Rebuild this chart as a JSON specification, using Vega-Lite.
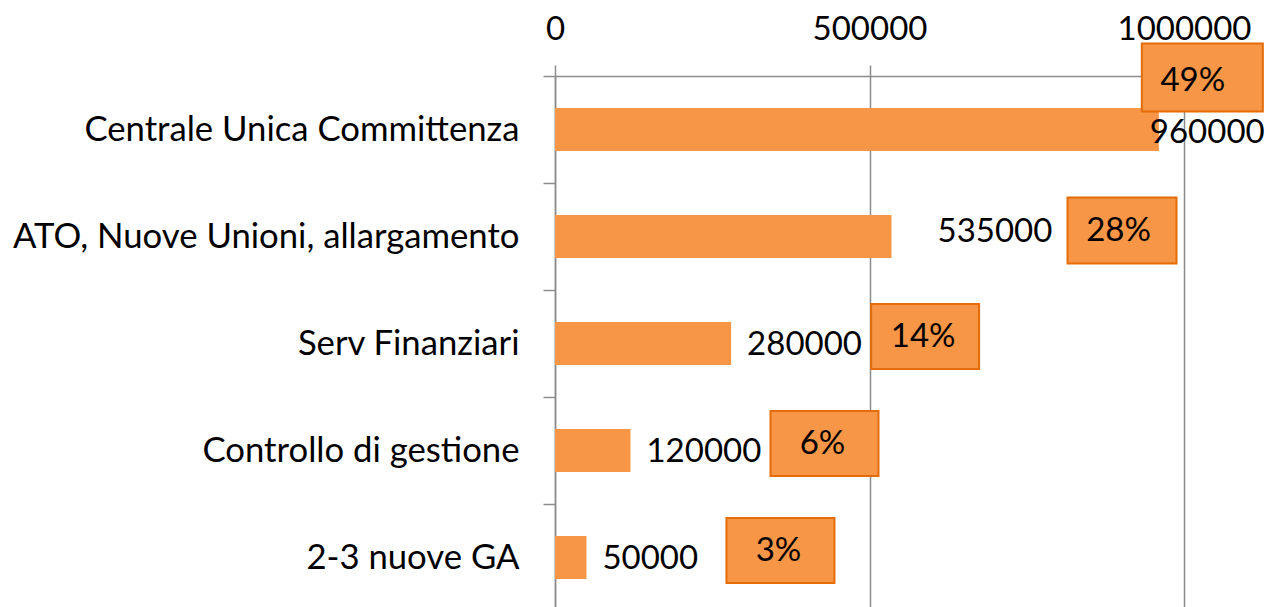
{
  "$schema": "https://vega.github.io/schema/vega-lite/v6.json",
  "autosize": {"type": "none"},
  "padding": {"left": 555, "top": 76, "right": 80, "bottom": 0},
  "width": 629,
  "height": 535,
  "background": "white",
  "config": {"view": {"stroke": null}, "font": "Lato", "text": {"font": "Lato"}},
  "data": {"values": [
    {"cat": "Centrale Unica Committenza", "value": 960000, "pct": 0.49},
    {"cat": "ATO, Nuove Unioni, allargamento", "value": 535000, "pct": 0.28},
    {"cat": "Serv Finanziari\u2002", "value": 280000, "pct": 0.14},
    {"cat": "Controllo di gestione\u2002", "value": 120000, "pct": 0.06},
    {"cat": "2-3 nuove GA", "value": 50000, "pct": 0.03}
  ]},
  "encoding": {
    "y": {"field": "cat", "type": "nominal", "sort": null,
      "scale": {"paddingInner": 0.6, "paddingOuter": 0.3},
      "axis": {"title": null, "orient": "left", "bandPosition": 0, "tickOffset": -32.1, "labelOffset": 33, "tickSize": 12, "tickColor": "#8c8c8c", "tickWidth": 1.5,
        "domainColor": "#8c8c8c", "domainWidth": 1.5, "labelFont": "Lato", "labelFontSize": 34.7, "labelColor": "black", "labelPadding": 24, "labelLimit": 0, "grid": false}},
    "x": {"field": "value", "type": "quantitative",
      "scale": {"domain": [0, 1000000], "nice": false},
      "axis": {"title": null, "orient": "top", "values": [0, 500000, 1000000], "format": "d", "grid": true, "gridColor": "#8c8c8c", "gridWidth": 1.5,
        "tickSize": 11, "tickColor": "#8c8c8c", "tickWidth": 1.5, "domainColor": "#8c8c8c", "domainWidth": 1.5,
        "labelFont": "Lato", "labelFontSize": 33, "labelColor": "black", "labelPadding": 19, "labelFlush": false}}
  },
  "layer": [
    {"mark": {"type": "bar", "color": "#F79646"}},
    {"transform": [{"filter": "datum.value < 500000"}],
     "mark": {"type": "text", "align": "left", "baseline": "middle", "dx": 16, "dy": 1, "fontSize": 33, "color": "black"},
     "encoding": {"text": {"field": "value", "type": "quantitative", "format": "d"}}},
    {"transform": [{"filter": "datum.value < 500000"}],
     "mark": {"type": "bar", "fill": "#F79646", "stroke": "#E46C0A", "strokeWidth": 2, "xOffset": 140, "x2Offset": 248, "height": 65, "yOffset": -7},
     "encoding": {"x2": {"field": "value"}}},
    {"transform": [{"filter": "datum.value < 500000"}],
     "mark": {"type": "text", "align": "center", "baseline": "middle", "dx": 192, "dy": -7, "fontSize": 33, "color": "black"},
     "encoding": {"text": {"field": "pct", "type": "quantitative", "format": ".0%"}}},
    {"transform": [{"filter": "datum.value >= 500000 && datum.value < 900000"}],
     "mark": {"type": "text", "align": "left", "baseline": "middle", "dx": 46, "dy": -5, "fontSize": 33, "color": "black"},
     "encoding": {"text": {"field": "value", "type": "quantitative", "format": "d"}}},
    {"transform": [{"filter": "datum.value >= 500000 && datum.value < 900000"}],
     "mark": {"type": "bar", "fill": "#F79646", "stroke": "#E46C0A", "strokeWidth": 2, "xOffset": 176, "x2Offset": 285, "height": 66, "yOffset": -6},
     "encoding": {"x2": {"field": "value"}}},
    {"transform": [{"filter": "datum.value >= 500000 && datum.value < 900000"}],
     "mark": {"type": "text", "align": "center", "baseline": "middle", "dx": 227, "dy": -6, "fontSize": 33, "color": "black"},
     "encoding": {"text": {"field": "pct", "type": "quantitative", "format": ".0%"}}},
    {"transform": [{"filter": "datum.value >= 900000"}],
     "mark": {"type": "text", "align": "left", "baseline": "middle", "dx": -9, "dy": 3, "fontSize": 33, "color": "black"},
     "encoding": {"text": {"field": "value", "type": "quantitative", "format": "d"}}},
    {"transform": [{"filter": "datum.value >= 900000"}],
     "mark": {"type": "bar", "fill": "#F79646", "stroke": "#E46C0A", "strokeWidth": 2, "xOffset": -17, "x2Offset": 104, "height": 68, "yOffset": -52},
     "encoding": {"x2": {"field": "value"}}},
    {"transform": [{"filter": "datum.value >= 900000"}],
     "mark": {"type": "text", "align": "center", "baseline": "middle", "dx": 34, "dy": -49, "fontSize": 33, "color": "black"},
     "encoding": {"text": {"field": "pct", "type": "quantitative", "format": ".0%"}}}
  ]
}
